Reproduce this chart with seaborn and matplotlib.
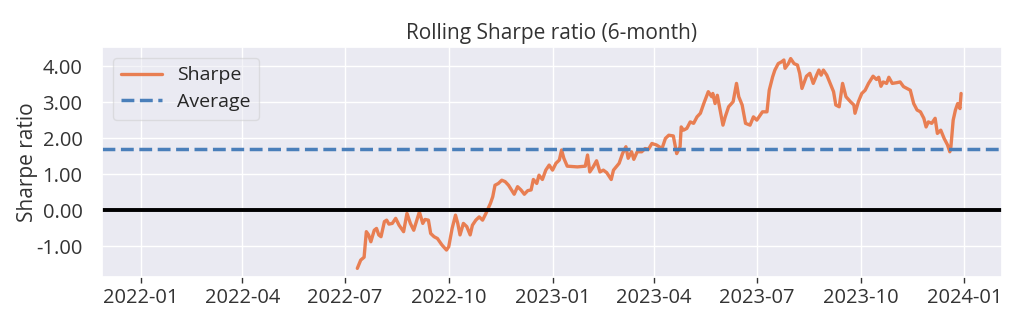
import matplotlib
matplotlib.use("Agg")
import matplotlib.pyplot as plt
import matplotlib.dates as mdates
import matplotlib.ticker as mticker
import numpy as np
import pandas as pd
import seaborn as sns

# ---------------- data ----------------
START = "2022-01-03"   # first date of the return series
END = "2023-12-29"     # last date of the return series

dates = [
    "2022-07-12", "2022-07-15", "2022-07-18", "2022-07-20", "2022-07-22", "2022-07-24",
    "2022-07-27", "2022-07-29", "2022-07-31", "2022-08-02", "2022-08-05", "2022-08-07",
    "2022-08-09", "2022-08-12", "2022-08-15", "2022-08-18", "2022-08-22", "2022-08-25",
    "2022-08-28", "2022-08-31", "2022-09-03", "2022-09-05", "2022-09-08", "2022-09-10",
    "2022-09-13", "2022-09-15", "2022-09-18", "2022-09-21", "2022-09-25", "2022-09-29",
    "2022-10-01", "2022-10-04", "2022-10-07", "2022-10-09", "2022-10-11", "2022-10-14",
    "2022-10-17", "2022-10-20", "2022-10-22", "2022-10-25", "2022-10-28", "2022-10-31",
    "2022-11-03", "2022-11-05", "2022-11-07", "2022-11-09", "2022-11-11", "2022-11-14",
    "2022-11-17", "2022-11-20", "2022-11-23", "2022-11-28", "2022-12-01", "2022-12-04",
    "2022-12-07", "2022-12-10", "2022-12-13", "2022-12-15", "2022-12-18", "2022-12-20",
    "2022-12-23", "2022-12-26", "2022-12-29", "2023-01-01", "2023-01-04", "2023-01-07",
    "2023-01-09", "2023-01-11", "2023-01-14", "2023-01-23", "2023-01-30", "2023-02-01",
    "2023-02-03", "2023-02-06", "2023-02-09", "2023-02-12", "2023-02-15", "2023-02-18",
    "2023-02-22", "2023-02-24", "2023-03-01", "2023-03-04", "2023-03-07", "2023-03-09",
    "2023-03-12", "2023-03-14", "2023-03-17", "2023-03-21", "2023-03-24", "2023-03-27",
    "2023-03-30", "2023-04-03", "2023-04-08", "2023-04-11", "2023-04-14", "2023-04-18",
    "2023-04-21", "2023-04-24", "2023-04-25", "2023-04-27", "2023-04-30", "2023-05-03",
    "2023-05-06", "2023-05-09", "2023-05-12", "2023-05-15", "2023-05-19", "2023-05-22",
    "2023-05-23", "2023-05-25", "2023-05-27", "2023-05-30", "2023-06-01", "2023-06-03",
    "2023-06-06", "2023-06-10", "2023-06-13", "2023-06-15", "2023-06-18", "2023-06-21",
    "2023-06-25", "2023-06-28", "2023-07-01", "2023-07-06", "2023-07-10", "2023-07-12",
    "2023-07-15", "2023-07-17", "2023-07-20", "2023-07-23", "2023-07-25", "2023-07-26",
    "2023-07-29", "2023-07-31", "2023-08-03", "2023-08-06", "2023-08-08", "2023-08-10",
    "2023-08-14", "2023-08-17", "2023-08-20", "2023-08-23", "2023-08-25", "2023-08-27",
    "2023-08-29", "2023-09-01", "2023-09-04", "2023-09-07", "2023-09-09", "2023-09-12",
    "2023-09-15", "2023-09-18", "2023-09-22", "2023-09-25", "2023-09-26", "2023-09-29",
    "2023-10-02", "2023-10-05", "2023-10-08", "2023-10-12", "2023-10-15", "2023-10-17",
    "2023-10-19", "2023-10-21", "2023-10-24", "2023-10-26", "2023-10-29", "2023-11-02",
    "2023-11-05", "2023-11-08", "2023-11-11", "2023-11-14", "2023-11-17", "2023-11-20",
    "2023-11-23", "2023-11-26", "2023-11-28", "2023-11-30", "2023-12-03", "2023-12-06",
    "2023-12-08", "2023-12-11", "2023-12-14", "2023-12-17", "2023-12-19", "2023-12-20",
    "2023-12-22", "2023-12-24", "2023-12-26", "2023-12-28", "2023-12-29",
]

sharpe = [
    -1.62, -1.39, -1.31, -0.60, -0.69, -0.88,
    -0.56, -0.51, -0.69, -0.74, -0.32, -0.28,
    -0.39, -0.37, -0.23, -0.42, -0.60, -0.09,
    -0.37, -0.56, -0.26, -0.05, -0.37, -0.26,
    -0.28, -0.65, -0.74, -0.79, -0.97, -1.11,
    -1.02, -0.51, -0.14, -0.37, -0.69, -0.37,
    -0.46, -0.69, -0.42, -0.28, -0.19, -0.28,
    -0.09, 0.05, 0.19, 0.37, 0.69, 0.74,
    0.83, 0.79, 0.69, 0.44, 0.65, 0.56,
    0.44, 0.54, 0.56, 0.85, 0.74, 0.97,
    0.85, 1.11, 1.25, 1.11, 1.30, 1.39,
    1.67, 1.44, 1.22, 1.20, 1.22, 1.53,
    1.06, 1.20, 1.37, 1.06, 1.11, 1.04,
    0.85, 1.11, 1.30, 1.57, 1.76, 1.44,
    1.62, 1.41, 1.62, 1.62, 1.71, 1.69,
    1.85, 1.81, 1.71, 1.99, 2.08, 2.06,
    1.57, 1.76, 2.31, 2.22, 2.27, 2.45,
    2.41, 2.59, 2.69, 2.96, 3.29, 3.15,
    3.24, 2.96, 3.19, 2.69, 2.36, 2.59,
    2.87, 3.01, 3.52, 3.15, 2.92, 2.41,
    2.36, 2.59, 2.50, 2.73, 2.73, 3.33,
    3.70, 3.89, 4.07, 4.12, 4.17, 3.94,
    4.07, 4.21, 4.07, 4.03, 3.80, 3.38,
    3.72, 3.80, 3.52, 3.75, 3.89, 3.75,
    3.89, 3.75, 3.52, 3.29, 2.92, 2.87,
    3.52, 3.15, 3.01, 2.92, 2.69, 3.01,
    3.24, 3.33, 3.52, 3.72, 3.63, 3.69,
    3.44, 3.56, 3.52, 3.69, 3.52, 3.54,
    3.56, 3.43, 3.38, 3.33, 2.96, 2.78,
    2.73, 2.55, 2.31, 2.45, 2.41, 2.55,
    2.13, 2.22, 1.99, 1.81, 1.62, 1.76,
    2.50, 2.78, 2.96, 2.82, 3.24,
]

average_sharpe = 1.69
series_labels = ["Sharpe", "Average"]

# ---------------- plot ----------------
sns.set_theme(style="darkgrid")
plt.rcParams["font.family"] = ["Open Sans", "DejaVu Sans"]

df = pd.DataFrame({"date": pd.to_datetime(dates), "sharpe": sharpe})

fig = plt.figure(figsize=(10.24, 3.29), dpi=100)
ax = fig.add_axes([0.0996, 0.158, 0.8789, 0.699])

sns.lineplot(data=df, x="date", y="sharpe", ax=ax, color="#e8632a",
             alpha=0.8, lw=2.4, label=series_labels[0])
ax.axhline(average_sharpe, color="#4a7fba", linestyle="--", lw=2.5,
           label=series_labels[1])
ax.axhline(0.0, color="black", linestyle="-", lw=2.8)

t0, t1 = pd.Timestamp(START), pd.Timestamp(END)
span = t1 - t0
ax.set_xlim(t0 - 0.05 * span, t1 + 0.05 * span)
ax.set_ylim(-1.86, 4.53)

ax.xaxis.set_major_locator(mdates.MonthLocator(bymonth=[1, 4, 7, 10]))
ax.xaxis.set_major_formatter(mdates.DateFormatter("%Y-%m"))
ax.yaxis.set_major_locator(mticker.MultipleLocator(1.0))
ax.yaxis.set_major_formatter(mticker.FormatStrFormatter("%.2f"))

ax.tick_params(axis="x", bottom=True, length=4, width=1, color="#333333",
               labelsize=14.5, labelcolor="#333333", pad=4)
ax.tick_params(axis="y", left=False, labelsize=14.5, labelcolor="#333333", pad=8)

ax.set_title("Rolling Sharpe ratio (6-month)", fontsize=15, color="#333333", pad=6)
ax.set_ylabel("Sharpe ratio", fontsize=15, color="#333333", labelpad=-1)
ax.set_xlabel("")

ax.legend(loc="upper left", frameon=True, framealpha=0.5, fontsize=14,
          handlelength=2.1, handletextpad=0.75, borderpad=0.45,
          labelspacing=0.45, borderaxespad=0.55)

fig.savefig("out.png", dpi=100)
